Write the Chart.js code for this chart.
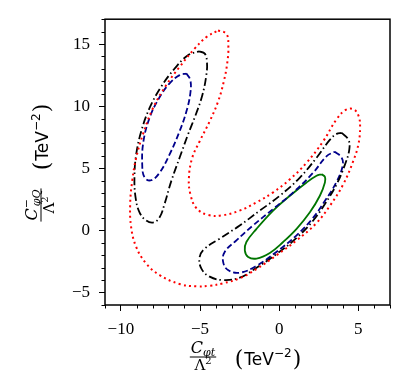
<!DOCTYPE html>
<html>
<head>
<meta charset="utf-8">
<script src="https://cdn.jsdelivr.net/npm/chart.js@4/dist/chart.umd.min.js"></script>
<style>
  body { margin: 0; background: #fff; }
</style>
</head>
<body>
<canvas id="grafica" width="407" height="392"></canvas>
<script>
// contorno rojo (punteado)
const rojoX = [-3.86, -3.33, -3.21, -3.27, -3.5, -3.86, -4.39, -5.02, -5.49, -5.7, -5.61, -5.23, -4.5, -3.6, -2.49, -1.43, -0.38, 0.68, 1.73, 2.78, 3.63, 4.2, 4.7, 5.02, 5.11, 5.0, 4.68, 4.05, 3.21, 2.36, 1.1, -0.17, -1.43, -2.49, -3.54, -4.39, -5.23, -6.29, -7.55, -8.4, -9.03, -9.35, -9.41, -9.28, -9.03, -8.61, -7.97, -7.13, -6.29, -5.34, -4.6];
const rojoY = [16.09, 15.82, 14.89, 13.56, 11.97, 10.37, 8.78, 7.18, 5.85, 4.26, 2.93, 1.8, 1.25, 1.22, 1.6, 2.26, 3.06, 4.12, 5.45, 7.18, 8.95, 9.7, 9.75, 9.2, 8.24, 6.91, 5.59, 3.72, 2.0, 0.6, -0.8, -2.0, -3.1, -3.85, -4.25, -4.45, -4.5, -4.31, -3.59, -2.66, -1.33, 0.27, 2.13, 3.99, 5.85, 7.71, 9.84, 11.7, 13.16, 14.63, 15.56];

// contornos negros (raya-punto)
const negroIzqX = [-5.06, -4.7, -4.56, -4.6, -4.85, -5.27, -5.76, -6.29, -6.81, -7.24, -7.55, -7.93, -8.4, -8.82, -9.07, -9.14, -9.03, -8.71, -8.19, -7.45, -6.6, -5.76];
const negroIzqY = [14.41, 14.23, 13.56, 12.5, 10.9, 9.31, 7.71, 5.85, 3.99, 2.13, 1.06, 0.64, 0.8, 1.46, 2.66, 4.26, 6.12, 7.98, 9.84, 11.57, 13.03, 14.1];
const negroDerX = [3.95, 4.37, 4.43, 4.16, 3.63, 2.89, 2.15, 1.1, -0.17, -1.43, -2.49, -3.54, -4.39, -4.92, -5.02, -4.7, -3.76, -2.49, -1.22, 0.04, 1.31, 2.36, 3.21, 3.63];
const negroDerY = [7.85, 7.31, 6.52, 5.32, 3.72, 2.13, 0.8, -0.6, -1.9, -3.0, -3.8, -3.99, -3.72, -3.06, -2.13, -1.46, -0.66, 0.4, 1.6, 2.79, 4.26, 5.85, 7.31, 7.77];

// contornos azules (rayas)
const azulIzqX = [-5.86, -5.61, -5.61, -5.86, -6.33, -6.92, -7.55, -8.08, -8.5, -8.65, -8.57, -8.19, -7.59, -6.92, -6.29];
const azulIzqY = [12.63, 12.1, 11.04, 9.57, 7.85, 6.12, 4.65, 4.04, 4.26, 5.32, 7.18, 9.04, 10.64, 11.84, 12.5];
const azulDerX = [3.52, 3.95, 4.01, 3.6, 2.85, 2.1, 1.05, -0.2, -1.43, -2.49, -3.23, -3.54, -3.44, -2.7, -1.65, -0.38, 0.89, 2.15, 3.0];
const azulDerY = [6.33, 5.85, 5.19, 3.85, 2.3, 0.95, -0.45, -1.75, -2.85, -3.4, -3.19, -2.53, -1.73, -0.8, 0.4, 1.73, 3.06, 4.65, 5.98];

// contorno verde (continuo)
const verdeX = [2.68, 2.89, 2.89, 2.57, 1.94, 1.1, 0.25, -0.59, -1.43, -1.96, -2.17, -2.07, -1.43, -0.38, 0.68, 1.73, 2.36];
const verdeY = [4.52, 4.31, 3.86, 2.79, 1.46, 0.13, -0.93, -1.81, -2.26, -2.13, -1.6, -0.93, 0.13, 1.6, 2.79, 3.86, 4.4];

const ejeX = { min: -11, max: 7 };
const ejeY = { min: -6, max: 17 };
const ticksX = [-10, -5, 0, 5];
const ticksY = [-5, 0, 5, 10, 15];

function cerrar(xs, ys) {
    const pts = xs.map((x, i) => ({ x: x, y: ys[i] }));
    pts.push({ x: xs[0], y: ys[0] });
    return pts;
}

function contorno(xs, ys, color, dash, ancho) {
    return {
        data: cerrar(xs, ys),
        showLine: true,
        borderColor: color,
        borderWidth: ancho,
        borderDash: dash,
        pointRadius: 0,
        fill: false,
        tension: 0.4
    };
}

function formatear(v) {
    return v < 0 ? '\u2212' + Math.abs(v) : String(v);
}

// dibuja trozos de texto seguidos, centrados en (cx, cy)
function textoTrozos(ctx, trozos, cx, cy) {
    let total = 0;
    trozos.forEach(t => { ctx.font = t.f; total += ctx.measureText(t.t).width + (t.sp || 0); });
    let x = cx - total / 2;
    ctx.textBaseline = 'middle';
    ctx.textAlign = 'left';
    trozos.forEach(t => {
        ctx.font = t.f;
        ctx.fillText(t.t, x, cy + (t.dy || 0));
        x += ctx.measureText(t.t).width + (t.sp || 0);
    });
}

function fraccion(ctx, num, den, cx, cy) {
    const medir = tr => tr.reduce((a, t) => { ctx.font = t.f; return a + ctx.measureText(t.t).width + (t.sp || 0); }, 0);
    const w = Math.max(medir(num), medir(den)) + 2;
    textoTrozos(ctx, num, cx, cy - 8);
    textoTrozos(ctx, den, cx, cy + 9);
    ctx.fillRect(cx - w / 2, cy - 0.5, w, 1);
}

function unidades(ctx, cx, cy) {
    textoTrozos(ctx, [
        { t: '(', f: '22px "DejaVu Serif"', sp: 1 },
        { t: 'TeV', f: '17px "DejaVu Sans"', dy: 1 },
        { t: '\u22122', f: '12px "DejaVu Sans"', dy: -6, sp: 1 },
        { t: ')', f: '22px "DejaVu Serif"' }
    ], cx, cy);
}

const marco = {
    id: 'marco',
    afterDraw(chart) {
        const ctx = chart.ctx;
        const a = chart.chartArea;
        const sx = chart.scales.x, sy = chart.scales.y;
        ctx.save();
        ctx.strokeStyle = '#000';
        ctx.fillStyle = '#000';
        ctx.lineWidth = 1.5;
        ctx.strokeRect(a.left, a.top, a.right - a.left, a.bottom - a.top);

        // ticks menores
        ctx.lineWidth = 1;
        ctx.beginPath();
        for (let v = ejeX.min; v <= ejeX.max; v++) {
            if (v % 5 === 0) continue;
            const px = Math.round(sx.getPixelForValue(v)) + 0.5;
            ctx.moveTo(px, a.bottom);
            ctx.lineTo(px, a.bottom + 3.5);
        }
        for (let v = ejeY.min; v <= ejeY.max; v++) {
            if (v % 5 === 0) continue;
            const py = Math.round(sy.getPixelForValue(v)) + 0.5;
            ctx.moveTo(a.left, py);
            ctx.lineTo(a.left - 3.5, py);
        }
        ctx.stroke();

        // titulo eje x
        fraccion(ctx,
            [{ t: 'C', f: 'italic 16px "DejaVu Serif"' }, { t: '\u03c6t', f: 'italic 11px "DejaVu Serif"', dy: 4 }],
            [{ t: '\u039b', f: '15px "DejaVu Serif"' }, { t: '2', f: '10px "DejaVu Serif"', dy: -5 }],
            203, 357);
        unidades(ctx, 268, 360);

        // titulo eje y
        ctx.translate(41, 0);
        ctx.rotate(-Math.PI / 2);
        fraccion(ctx,
            [{ t: 'C', f: 'italic 16px "DejaVu Serif"' }, { t: '\u2212', f: '11px "DejaVu Serif"', dy: -6, sp: -7 }, { t: '\u03c6Q', f: 'italic 11px "DejaVu Serif"', dy: 4 }],
            [{ t: '\u039b', f: '15px "DejaVu Serif"' }, { t: '2', f: '10px "DejaVu Serif"', dy: -5 }],
            -205, 0);
        unidades(ctx, -137, 2);
        ctx.restore();
    }
};

new Chart(document.getElementById('grafica'), {
    type: 'scatter',
    data: {
        datasets: [
            contorno(rojoX, rojoY, '#ff0000', [2, 3.3], 2),
            contorno(negroIzqX, negroIzqY, '#000000', [8, 3, 1.5, 3], 1.8),
            contorno(negroDerX, negroDerY, '#000000', [8, 3, 1.5, 3], 1.8),
            contorno(azulIzqX, azulIzqY, '#00008b', [6, 3], 1.8),
            contorno(azulDerX, azulDerY, '#00008b', [6, 3], 1.8),
            contorno(verdeX, verdeY, '#007500', [], 1.8)
        ]
    },
    options: {
        responsive: false,
        devicePixelRatio: 1,
        animation: false,
        layout: { padding: { top: 16, right: 17, left: 0, bottom: 0 } },
        plugins: {
            legend: { display: false },
            tooltip: { enabled: false }
        },
        scales: {
            x: {
                type: 'linear',
                min: ejeX.min,
                max: ejeX.max,
                afterBuildTicks: s => { s.ticks = ticksX.map(v => ({ value: v })); },
                afterFit: s => { s.height = 87; },
                grid: { drawOnChartArea: false, tickLength: 6, color: '#000', lineWidth: 1 },
                border: { display: false },
                ticks: {
                    callback: v => formatear(v),
                    color: '#000',
                    padding: 8,
                    maxRotation: 0,
                    font: { family: '"Liberation Serif"', size: 17 }
                }
            },
            y: {
                type: 'linear',
                min: ejeY.min,
                max: ejeY.max,
                afterBuildTicks: s => { s.ticks = ticksY.map(v => ({ value: v })); },
                afterFit: s => { s.width = 105; },
                grid: { drawOnChartArea: false, tickLength: 6, color: '#000', lineWidth: 1 },
                border: { display: false },
                ticks: {
                    callback: v => formatear(v),
                    color: '#000',
                    padding: 9,
                    font: { family: '"Liberation Serif"', size: 17 }
                }
            }
        }
    },
    plugins: [marco]
});
</script>
</body>
</html>
